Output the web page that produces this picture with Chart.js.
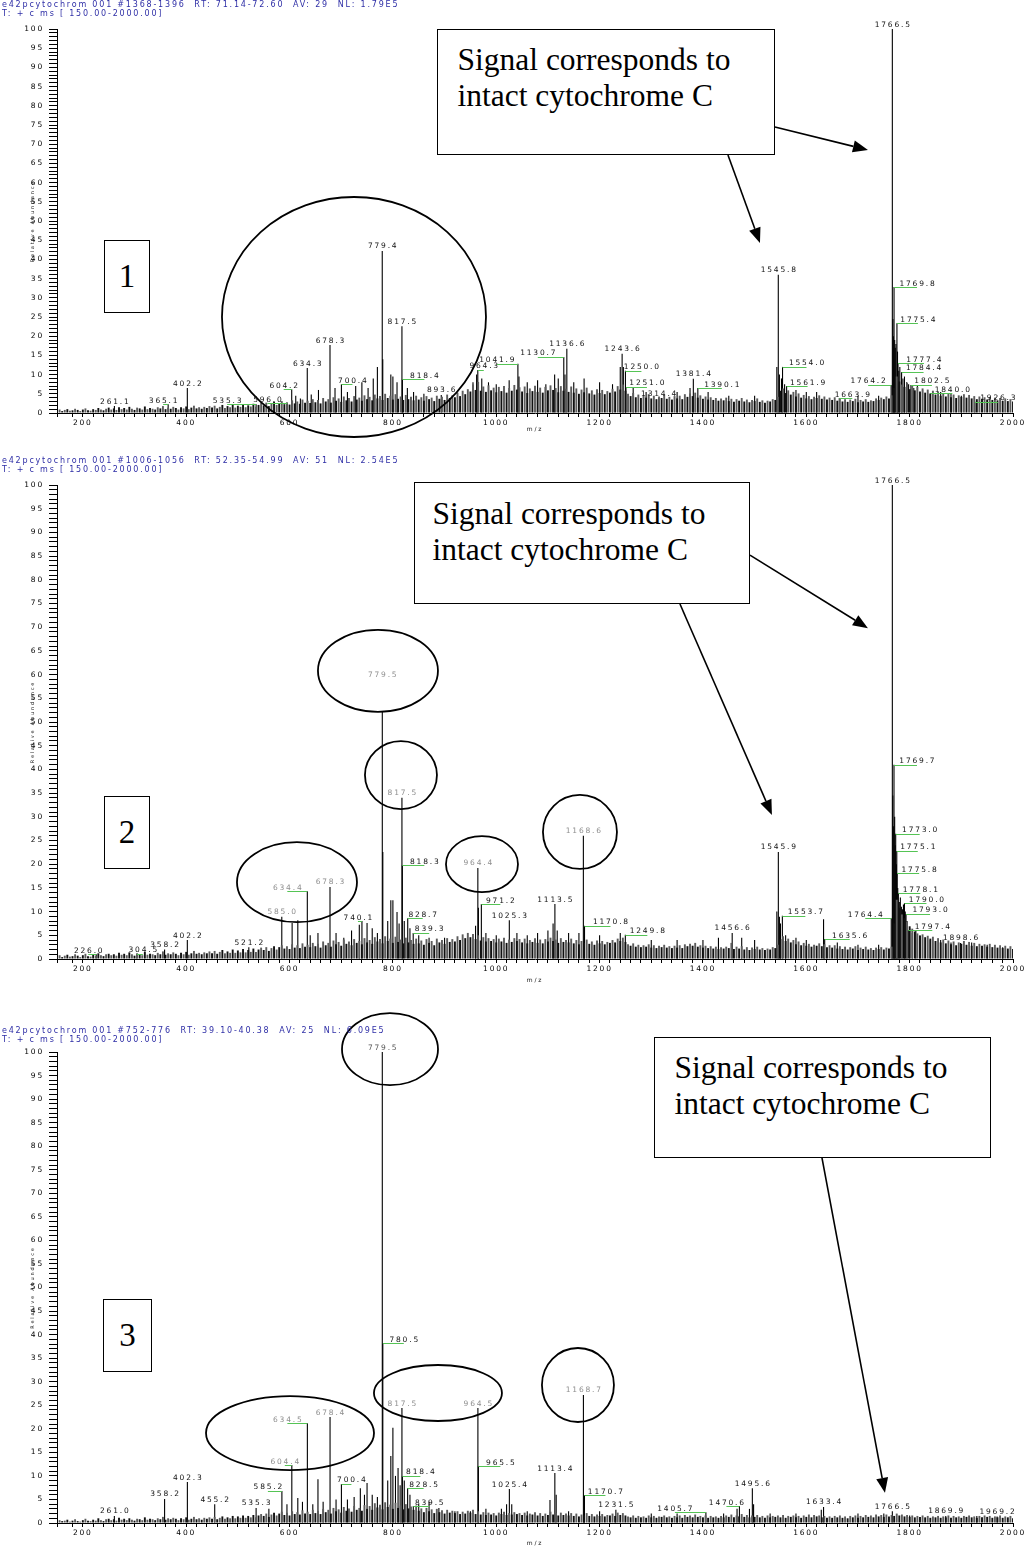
<!DOCTYPE html>
<html>
<head>
<meta charset="utf-8">
<script src="https://cdn.jsdelivr.net/npm/chart.js@4.4.1/dist/chart.umd.min.js"></script>
<style>
  html, body { margin: 0; padding: 0; background: #fff; }
  body { position: relative; width: 1030px; height: 1548px; overflow: hidden; }
  canvas { position: absolute; left: 0; }
  .hdr { position: absolute; left: 2px; font-family: "DejaVu Sans", sans-serif; font-size: 8px;
         line-height: 9px; letter-spacing: 1.8px; color: #2e2ea6; white-space: pre; z-index: 3; }
  .note { position: absolute; box-sizing: border-box; border: 1.5px solid #000; background: #fff;
          font-family: "Liberation Serif", serif; font-size: 31.5px; line-height: 36px; color: #000; z-index: 2; }
  .num { position: absolute; box-sizing: border-box; border: 1.5px solid #000; background: #fff;
         font-family: "Liberation Serif", serif; font-size: 33px; text-align: center; color: #000; z-index: 2; }
</style>
</head>
<body>

<div class="hdr" style="top:-0.5px">e42pcytochrom 001 #1368-1396  RT: 71.14-72.60  AV: 29  NL: 1.79E5
T: + c ms [ 150.00-2000.00]</div>
<div class="hdr" style="top:455.5px">e42pcytochrom 001 #1006-1056  RT: 52.35-54.99  AV: 51  NL: 2.54E5
T: + c ms [ 150.00-2000.00]</div>
<div class="hdr" style="top:1025.5px">e42pcytochrom 001 #752-776  RT: 39.10-40.38  AV: 25  NL: 6.09E5
T: + c ms [ 150.00-2000.00]</div>

<canvas id="p1" width="1030" height="450" style="top:0px"></canvas>
<canvas id="p2" width="1030" height="550" style="top:450px"></canvas>
<canvas id="p3" width="1030" height="548" style="top:1000px"></canvas>

<div class="note" style="left:437px;top:29px;width:338px;height:126px;padding:11.5px 0 0 19.5px">Signal corresponds to<br>intact cytochrome C</div>
<div class="note" style="left:414px;top:482px;width:336px;height:122px;padding:13px 0 0 17.5px">Signal corresponds to<br>intact cytochrome C</div>
<div class="note" style="left:654px;top:1037px;width:337px;height:121px;padding:11.5px 0 0 19.5px">Signal corresponds to<br>intact cytochrome C</div>

<div class="num" style="left:104px;top:240px;width:46px;height:73px;line-height:70px">1</div>
<div class="num" style="left:104px;top:796px;width:46px;height:73px;line-height:70px">2</div>
<div class="num" style="left:103px;top:1299px;width:49px;height:73px;line-height:70px">3</div>

<script>
// ---------- spectrum data ----------
// Baseline signal sampled every noiseStep m/z, starting at noiseStart.
const noiseStart = 150;
const noiseStep = 5;

const noise1 = [
  0.6,0.9,0.5,0.8,1.0,0.6,0.7,1.1,0.8,0.5,0.9,1.2,0.7,0.6,1.0,0.8,1.3,0.9,0.7,1.1,
  1.4,0.9,1.2,0.8,1.5,1.0,1.3,0.9,1.6,1.1,0.8,1.4,1.2,0.9,1.7,1.0,1.3,1.1,0.9,1.5,
  1.2,1.8,1.0,1.4,1.1,1.6,1.3,0.9,1.5,1.2,1.7,1.0,1.4,1.9,1.2,1.5,1.1,1.6,1.3,1.8,
  1.4,1.9,1.2,1.6,2.1,1.3,1.8,1.5,2.2,1.4,1.9,1.6,2.3,1.5,2.0,1.7,2.4,1.6,2.1,2.6,
  2.0,2.7,1.8,2.4,2.9,2.1,2.6,3.1,2.3,2.8,2.2,3.3,2.5,3.0,2.4,3.5,2.7,3.2,2.6,3.6,
  2.8,3.4,2.5,3.9,3.0,3.6,2.7,4.1,3.2,3.8,2.9,4.3,3.3,3.9,3.0,4.4,3.5,4.0,3.2,4.6,
  3.6,4.2,3.3,4.8,3.8,4.4,3.4,5.0,3.9,4.5,3.5,4.9,3.7,4.3,3.4,4.7,3.6,4.2,3.3,4.5,
  3.5,4.1,3.2,4.4,3.6,4.0,3.1,4.5,3.7,4.2,3.4,4.8,3.9,4.6,4.1,5.3,4.4,5.8,4.9,6.2,
  5.6,7.4,6.0,8.1,5.8,6.9,5.5,7.2,5.9,6.6,5.4,6.8,5.7,7.0,5.3,6.5,5.8,7.3,6.1,6.7,
  5.6,6.9,5.2,6.4,5.7,7.1,5.5,6.6,5.3,6.8,5.9,7.2,6.0,6.5,5.4,7.0,5.8,6.3,5.5,6.9,
  5.3,6.4,5.0,6.1,5.4,6.6,5.1,5.9,4.8,6.2,5.2,6.0,4.9,5.7,5.3,6.3,5.6,7.0,6.1,7.4,
  5.8,5.0,4.4,5.2,4.1,4.8,3.9,4.6,4.0,4.9,3.8,4.5,3.6,4.3,3.9,4.7,3.7,4.2,3.5,4.4,
  3.8,4.5,3.6,4.9,4.2,5.1,4.4,5.3,4.0,4.6,3.7,4.3,3.5,4.1,3.4,3.9,3.2,3.8,3.3,4.0,
  3.1,3.7,2.9,3.6,3.2,3.9,3.0,3.5,2.8,3.4,3.1,3.8,2.9,3.3,2.7,3.2,3.0,3.6,3.4,4.2,
  5.8,6.4,5.2,5.9,4.8,5.5,4.3,5.1,4.0,4.7,3.8,4.4,3.6,4.2,3.9,4.6,3.7,4.3,3.5,4.0,
  3.4,4.1,3.2,3.8,3.0,3.6,2.9,3.5,3.1,3.7,2.8,3.4,3.0,3.6,2.9,3.3,3.1,3.8,3.4,4.0,
  3.6,4.3,3.8,4.6,6.5,9.5,8.2,7.4,6.8,7.9,6.2,7.1,5.9,6.8,5.6,6.4,5.3,6.1,5.0,5.8,
  4.8,5.5,4.5,5.2,4.3,5.0,4.1,4.8,3.9,4.6,4.2,4.9,4.0,4.7,3.8,4.4,3.6,4.3,3.7,4.1,
  3.5,4.2,3.4,4.0,3.3,3.9,3.2,3.8,3.1,3.6,3.0
];

const noise2 = [
  0.5,0.8,0.4,0.7,0.9,0.5,0.6,1.0,0.7,0.4,0.8,1.1,0.6,0.5,0.9,0.7,1.2,0.8,0.6,1.0,
  1.1,0.8,1.0,0.7,1.3,0.9,1.1,0.8,1.4,1.0,0.7,1.2,1.0,0.8,1.5,0.9,1.1,1.0,0.8,1.3,
  1.0,1.6,0.9,1.2,1.0,1.4,1.1,0.8,1.3,1.0,1.5,0.9,1.2,1.7,1.1,1.3,1.0,1.4,1.2,1.6,
  1.2,1.7,1.1,1.5,1.9,1.2,1.6,1.3,2.0,1.3,1.8,1.4,2.1,1.4,1.9,1.5,2.2,1.5,2.0,2.4,
  1.9,2.5,1.7,2.3,2.7,2.0,2.5,2.9,2.2,2.7,2.1,3.1,2.4,2.9,2.3,3.3,2.6,3.0,2.5,3.4,
  2.7,3.2,2.4,3.7,2.9,3.4,2.6,3.9,3.1,3.6,2.8,4.1,3.2,3.7,2.9,4.2,3.4,3.8,3.1,4.4,
  3.5,4.0,3.2,4.6,3.7,4.2,3.3,4.8,3.8,4.3,3.4,4.7,3.6,4.1,3.3,4.5,3.5,4.0,3.2,4.3,
  3.3,3.9,3.0,4.2,3.4,3.8,2.9,4.3,3.5,4.0,3.2,4.4,3.6,4.2,3.7,4.8,4.0,5.2,4.4,5.5,
  4.6,5.3,4.2,5.0,3.9,4.6,3.7,4.4,3.8,4.2,3.5,4.3,3.7,4.5,3.4,4.1,3.6,4.4,3.8,4.2,
  3.5,4.3,3.3,4.0,3.6,4.4,3.4,4.1,3.3,4.2,3.7,4.5,3.8,4.1,3.4,4.4,3.6,4.0,3.5,4.3,
  3.3,4.0,3.1,3.8,3.4,4.1,3.2,3.7,3.0,3.9,3.3,3.8,3.1,3.6,3.4,4.0,3.5,4.3,3.8,4.5,
  3.6,3.1,2.8,3.3,2.6,3.0,2.5,2.9,2.6,3.1,2.4,2.9,2.3,2.8,2.5,3.0,2.4,2.7,2.3,2.8,
  2.4,2.9,2.3,3.1,2.7,3.2,2.8,3.4,2.6,2.9,2.4,2.8,2.3,2.7,2.2,2.6,2.1,2.5,2.2,2.6,
  2.3,3.4,2.1,2.6,2.2,2.7,2.0,2.5,1.9,2.4,2.1,2.6,2.0,2.3,1.9,2.2,2.0,2.5,2.3,3.0,
  4.2,4.8,3.8,4.3,3.5,4.0,3.1,3.7,2.9,3.4,2.8,3.2,2.6,3.0,2.8,3.3,2.7,3.1,2.5,2.9,
  2.4,2.9,2.2,2.7,2.1,2.6,2.0,2.5,2.2,2.7,1.9,2.4,2.1,2.6,2.0,2.3,1.9,2.4,2.1,2.5,
  2.0,2.4,2.2,2.6,7.5,12.5,10.8,9.4,8.6,7.8,6.9,6.4,5.8,5.4,4.9,5.2,4.6,4.9,4.3,4.7,
  3.8,4.4,3.5,4.1,3.3,3.9,3.1,3.7,2.9,3.5,3.2,3.8,3.0,3.6,2.8,3.4,2.7,3.2,2.8,3.1,
  2.6,3.2,2.5,3.0,2.4,2.9,2.3,2.8,2.2,2.7,2.1
];

const noise3 = [
  0.3,0.6,0.4,0.5,0.7,0.3,0.5,0.8,0.4,0.3,0.6,0.9,0.5,0.4,0.7,0.5,1.0,0.6,0.4,0.8,
  0.9,0.6,0.8,0.5,1.1,0.7,0.9,0.6,1.0,0.7,0.5,0.9,0.8,0.6,1.2,0.7,0.9,0.8,0.6,1.0,
  0.8,1.3,0.7,1.0,0.8,1.1,0.9,0.6,1.0,0.8,1.2,0.7,0.9,1.3,0.8,1.0,0.7,1.1,0.9,1.2,
  0.9,1.3,0.8,1.1,1.4,0.9,1.2,1.0,1.5,1.0,1.4,1.1,1.6,1.1,1.5,1.2,1.7,1.2,1.6,1.9,
  1.5,2.0,1.3,1.8,2.2,1.6,2.0,2.4,1.7,2.2,1.6,2.5,1.9,2.3,1.8,2.7,2.0,2.4,1.9,2.8,
  2.1,2.6,1.9,3.0,2.3,2.8,2.0,3.2,2.5,2.9,2.2,3.4,2.6,3.1,2.4,3.6,2.8,3.2,2.6,3.8,
  3.0,3.6,2.8,4.2,3.3,3.9,2.9,4.4,3.4,3.9,3.0,4.3,3.2,3.7,2.9,4.0,3.1,3.5,2.8,3.7,
  2.6,3.1,2.3,3.2,2.5,2.9,2.1,3.0,2.3,2.7,2.0,2.8,2.2,2.6,2.1,2.5,1.9,2.4,2.0,2.6,
  2.2,2.8,1.9,2.5,1.8,2.3,1.7,2.2,1.8,2.1,1.6,2.2,1.9,2.4,1.7,2.1,1.8,2.3,1.9,2.1,
  1.7,2.2,1.6,2.0,1.8,2.3,1.6,2.1,1.5,2.0,1.7,2.4,1.8,2.1,1.6,2.2,1.7,2.0,1.6,2.1,
  1.5,2.0,1.4,1.8,1.6,2.1,1.5,1.9,1.4,1.8,1.5,1.9,1.4,1.7,1.6,2.0,1.5,2.2,1.7,2.1,
  1.6,1.4,1.2,1.6,1.1,1.5,1.2,1.4,1.1,1.6,1.2,1.5,1.1,1.4,1.3,1.6,1.2,1.4,1.1,1.5,
  1.2,1.6,1.1,1.7,1.3,1.6,1.2,1.8,1.3,1.5,1.2,1.6,1.1,1.5,1.2,1.4,1.1,1.5,1.2,1.6,
  1.3,1.8,1.2,1.6,1.4,1.9,1.3,1.7,1.2,1.6,1.3,1.7,1.2,1.5,1.1,1.6,1.2,1.5,1.3,1.6,
  1.2,1.7,1.1,1.5,1.3,1.6,1.2,1.5,1.1,1.6,1.3,1.8,1.2,1.7,1.4,1.6,1.2,1.5,1.1,1.4,
  1.1,1.5,1.2,1.6,1.1,1.4,1.0,1.5,1.2,1.6,1.1,1.5,1.2,1.7,1.3,1.6,1.2,1.8,1.4,1.7,
  1.3,1.8,1.4,1.7,1.5,2.0,1.6,1.8,1.4,1.7,1.3,1.6,1.2,1.5,1.3,1.6,1.2,1.5,1.1,1.4,
  1.2,1.5,1.1,1.4,1.2,1.6,1.1,1.5,1.2,1.4,1.1,1.5,1.3,1.6,1.2,1.4,1.1,1.5,1.2,1.6,
  1.3,1.5,1.1,1.4,1.2,1.6,1.1,1.4,1.2,1.5,1.0
];

// Resolved peaks: [m/z, relative abundance %]
const peaks1 = [
  [261.1,1.8],[365.1,2.3],[402.2,6.5],[535.3,2.3],[596.0,2.6],[604.2,6.2],[612,4.5],[621,3.8],
  [634.3,11.7],[642,4.8],[656,6.0],[678.3,17.7],[688,6.5],[700.4,7.5],[712,5.5],[728,7.0],
  [740,8.0],[752,6.5],[762,9.0],[770,12.0],[779.4,42.2],[780.4,14],[796,10],[800,9.5],[808,8],
  [817.5,22.6],[818.4,8.8],[828,6.5],[840,5.5],[860,5.0],[893.6,4.7],[955,8],[962,10],
  [964.3,11.2],[972,9],[985,8],[1000,7.5],[1025,8.5],[1041.9,12.8],[1044,9.5],[1060,8],
  [1080,8.5],[1096,7.5],[1113,10],[1120,9],[1130.7,14.6],[1133,10],[1136.6,16.7],[1150,8],
  [1170,9],[1200,8],[1225,7.5],[1240,12],[1243.6,15.4],[1246,12],[1250.0,11],[1251.0,6.8],
  [1265,6.5],[1290,5.5],[1314.4,3.9],[1350,5.5],[1375,6.5],[1381.4,8.9],[1390.1,6.5],
  [1410,5.5],[1450,4.5],[1500,4.5],[1543,12],[1545.8,36],[1548,10],[1552,9],[1554.0,12],
  [1558,7.5],[1561.9,7.0],[1580,6],[1600,5.5],[1620,5.5],[1663.9,3.9],[1700,4.5],[1740,4.5],
  [1764.2,7.3],[1766.5,100],[1767.6,24.5],[1768.5,20],[1769.8,32.8],[1771.0,19],[1772.2,17],
  [1773.5,18],[1775.4,23.4],[1776.5,16],[1777.4,13],[1779,11],[1781,12],[1784.4,10.7],
  [1787,9],[1790,9.5],[1794,8],[1798,7.5],[1802.5,7.3],[1808,6.5],[1815,7],[1825,6],
  [1840.0,5.2],[1860,5.5],[1880,5],[1900,4.5],[1926.3,2.9]
];

const peaks2 = [
  [226.0,1.0],[304.5,1.1],[358.2,2.0],[402.2,4.0],[521.2,2.5],[585.0,8.9],[605,7.6],[616,8.2],
  [634.4,14.3],[640,5],[655,5.5],[678.3,15.2],[690,5.5],[705,4.5],[720,6],[735,7.2],[740.1,8.0],
  [750,7.6],[760,6.5],[770,5.5],[779.5,59],[780.5,22.6],[790,8],[796,12.4],[800,12.4],
  [808,9.9],[812,7.5],[817.5,34],[818.3,19.8],[822,8],[828.7,8.6],[833,6.5],[839.3,5.5],
  [850,5],[870,4.5],[900,4.5],[930,4],[960,7],[964.4,19.2],[965.5,10.8],[971.2,11.6],
  [980,5.5],[1000,5],[1025.3,8.2],[1040,5.5],[1060,5],[1080,5.5],[1100,6],[1110,7.5],
  [1113.5,11.6],[1118,6],[1140,5.5],[1160,5.5],[1168.6,26],[1170.8,7.0],[1200,5],[1240,5.5],
  [1249.8,5.1],[1300,4],[1350,4],[1400,4],[1430,4.5],[1456.6,5.5],[1475,4.5],[1500,4],
  [1543,10],[1545.9,22.6],[1548,8.9],[1550,7.5],[1553.7,9.1],[1560,5],[1580,4.5],[1600,4],
  [1633.4,8.4],[1635.6,4.2],[1660,3.5],[1700,3],[1740,3],[1764.4,8.6],[1766.5,100],
  [1767.4,34.5],[1768.4,28],[1769.7,41],[1771.0,30],[1772.0,24],[1773.0,26.4],[1774.2,20],
  [1775.1,22.8],[1775.8,18.1],[1777.0,15],[1778.1,13.9],[1780,12],[1782,13],[1784,11],
  [1786,10.5],[1788,11.5],[1790.0,11.8],[1791.5,10],[1793.0,9.5],[1795,8],[1797.4,6.1],
  [1800,6.5],[1805,5.5],[1812,6],[1820,5],[1840,4],[1860,4],[1880,3.5],[1898.6,3.4],
  [1920,3.5],[1950,3],[1980,2.5]
];

const peaks3 = [
  [261.0,1.5],[358.2,5.1],[402.3,8.7],[455.2,4.0],[535.3,3.2],[560,3],[585.2,6.8],[595,4],
  [604.4,12.3],[616,5.3],[625,4.5],[634.5,21.2],[645,4],[655,9.3],[665,4.5],[678.4,22.5],
  [690,5],[700.4,8.3],[712,5],[725,5.5],[737,7.4],[745,6],[750,8.5],[760,6],[770,5.5],
  [779.5,100],[780.5,38.2],[790,9],[796,14.2],[800,20.2],[805,10],[810,11.7],[814,8],
  [817.5,24.4],[818.4,10.0],[822,9],[828.5,7.4],[833,6],[839.5,3.6],[850,4],[870,4.5],
  [889,3.2],[920,2.5],[950,2.5],[964.5,24.4],[965.5,12.1],[980,3],[1010,3],[1020,4],
  [1025.4,7.2],[1030,4],[1060,2.5],[1104,4.9],[1113.4,10.6],[1116,6],[1140,2.5],
  [1168.7,27.2],[1170.7,5.9],[1200,2.5],[1231.5,2.8],[1300,2],[1350,2],[1405.7,2.3],
  [1440,2],[1466,3],[1470.6,3.6],[1490,3],[1495.6,7.4],[1498,4],[1530,2],[1580,2],
  [1629,2.8],[1633.4,3.4],[1700,2],[1750,2],[1766.5,2.5],[1800,1.6],[1869.9,1.5],
  [1930,1.5],[1969.2,1.4]
];

// Annotated peaks (m/z values printed above their sticks)
const labelMz1 = [261.1,365.1,402.2,535.3,596.0,604.2,634.3,678.3,700.4,779.4,817.5,818.4,
  893.6,964.3,1041.9,1130.7,1136.6,1243.6,1250.0,1251.0,1314.4,1381.4,1390.1,1545.8,1554.0,
  1561.9,1663.9,1764.2,1766.5,1769.8,1775.4,1777.4,1784.4,1802.5,1840.0,1926.3];
const labelMz2 = [226.0,304.5,358.2,402.2,521.2,585.0,634.4,678.3,740.1,779.5,817.5,818.3,
  828.7,839.3,964.4,971.2,1025.3,1113.5,1168.6,1170.8,1249.8,1456.6,1545.9,1553.7,1635.6,
  1764.4,1766.5,1769.7,1773.0,1775.1,1775.8,1778.1,1790.0,1793.0,1797.4,1898.6];
const labelMz3 = [261.0,358.2,402.3,455.2,535.3,585.2,604.4,634.5,678.4,700.4,779.5,780.5,
  817.5,818.4,828.5,839.5,964.5,965.5,1025.4,1113.4,1168.7,1170.7,1231.5,1405.7,1470.6,
  1495.6,1633.4,1766.5,1869.9,1969.2];

// ---------- label layout (px shift of each label from its stick; non-zero gets a leader) ----------
const labelShift1 = [0,-5,0,-29,-20,-8,0,0,11,0,0,22,0,6,-21,-26,0,0,16,21,0,0,24,0,24,21,13,
  -23,0,23,21,26,22,21,22,23];
const labelShift2 = [-8,6,0,0,0,0,-20,0,-4,0,0,22,15,16,0,19,0,0,0,26,22,0,0,23,25,-26,0,23,24,
  21,22,22,22,24,24,0];
const labelShift3 = [0,0,0,0,0,-14,-7,-20,0,10,0,21,0,18,16,16,0,22,0,0,0,21,0,-31,-13,0,0,0,0,0];

// labels retyped in grey inside the hand-drawn circles
const grey1 = [];
const grey2 = [585.0,634.4,678.3,779.5,817.5,964.4,1168.6];
const grey3 = [604.4,634.5,678.4,817.5,964.5,1168.7];
const dim3 = [779.5];

// circles (centre in m/z / abundance, radii in px) and arrows (m/z / abundance end points)
const circles1 = [{ mz: 724.7, ab: 25, rx: 132, ry: 120 }];
const arrows1 = [{ from: [1539.3, 74.5], to: [1719.3, 68.5] }, { from: [1448.4, 67.2], to: [1510.3, 44.3] }];
const circles2 = [
  { mz: 771.1, ab: 60.8, rx: 60, ry: 41, fill: true },
  { mz: 815.6, ab: 38.8, rx: 36, ry: 34 },
  { mz: 614.4, ab: 16.2, rx: 60, ry: 40 },
  { mz: 972.4, ab: 20.0, rx: 36, ry: 28 },
  { mz: 1162.0, ab: 26.8, rx: 37, ry: 37 }
];
const arrows2 = [{ from: [1491, 85.2], to: [1719.3, 69.8] }, { from: [1355.5, 74.9], to: [1533.5, 30.4] }];
const circles3 = [
  { mz: 794.4, ab: 100.6, rx: 48, ry: 36 },
  { mz: 600.9, ab: 19.1, rx: 84, ry: 37 },
  { mz: 887.2, ab: 27.6, rx: 64, ry: 28 },
  { mz: 1158.1, ab: 29.3, rx: 36, ry: 37 }
];
const arrows3 = [{ from: [1630.3, 77.5], to: [1752.2, 6.4] }];

// ---------- drawing ----------
const INK = '#000';
const TICK_FONT = { family: 'DejaVu Sans', size: 7.5 };

function abundanceAt(peaks, mz) {
  const p = peaks.find(q => Math.abs(q[0] - mz) < 0.01);
  return p ? p[1] : 0;
}

function drawArrow(ctx, x0, y0, x1, y1) {
  const a = Math.atan2(y1 - y0, x1 - x0), L = 15, W = 6;
  const bx = x1 - L * Math.cos(a), by = y1 - L * Math.sin(a);
  ctx.beginPath(); ctx.moveTo(x0, y0); ctx.lineTo(bx, by);
  ctx.lineWidth = 1.6; ctx.strokeStyle = INK; ctx.stroke();
  ctx.beginPath(); ctx.moveTo(x1, y1);
  ctx.lineTo(bx - W * Math.sin(a), by + W * Math.cos(a));
  ctx.lineTo(bx + W * Math.sin(a), by - W * Math.cos(a));
  ctx.closePath(); ctx.fillStyle = INK; ctx.fill();
}

function makeOverlay(cfg) {
  return {
    id: 'spectrumOverlay',
    beforeDraw(chart) { chart.ctx.letterSpacing = '1.8px'; },
    afterDatasetsDraw(chart) {
      const { ctx, scales: { x, y } } = chart;
      ctx.save();
      // hand-drawn circles
      cfg.circles.forEach(c => {
        ctx.beginPath();
        ctx.ellipse(x.getPixelForValue(c.mz), y.getPixelForValue(c.ab), c.rx, c.ry, 0, 0, Math.PI * 2);
        if (c.fill) { ctx.fillStyle = '#fff'; ctx.fill(); }
        ctx.lineWidth = 1.8; ctx.strokeStyle = INK; ctx.stroke();
      });
      // peak labels with green leader lines
      ctx.font = '7.5px "DejaVu Sans"';
      ctx.letterSpacing = '1.8px';
      ctx.textAlign = 'center';
      ctx.textBaseline = 'alphabetic';
      cfg.labels.forEach((mz, i) => {
        const px = x.getPixelForValue(mz);
        const py = y.getPixelForValue(abundanceAt(cfg.peaks, mz));
        const s = cfg.shifts[i] || 0;
        if (s) {
          const ly = Math.round(py) + 0.5;
          ctx.beginPath(); ctx.moveTo(px, ly); ctx.lineTo(px + s, ly);
          ctx.lineWidth = 1; ctx.strokeStyle = '#55c455'; ctx.stroke();
        }
        ctx.fillStyle = cfg.grey.includes(mz) ? '#8e8e8e' : (cfg.dim.includes(mz) ? '#555' : '#111');
        ctx.fillText(mz.toFixed(1), px + s + 0.9, py - (s ? 1.5 : 2.5));
      });
      // arrows towards the intact-protein signal
      cfg.arrows.forEach(a => {
        drawArrow(ctx, x.getPixelForValue(a.from[0]), y.getPixelForValue(a.from[1]),
                       x.getPixelForValue(a.to[0]), y.getPixelForValue(a.to[1]));
      });
      ctx.restore();
    }
  };
}

function buildSpectrum(cfg) {
  const noiseData = cfg.noise.map((v, i) => ({ x: noiseStart + i * noiseStep, y: v }));
  const peakData = cfg.peaks.map(p => ({ x: p[0], y: p[1] }));
  return new Chart(document.getElementById(cfg.id), {
    type: 'bar',
    data: {
      datasets: [
        { data: noiseData, barThickness: 1.9, grouped: false, inflateAmount: 0, borderWidth: 0,
          backgroundColor: c => (c.dataIndex % 2 ? '#5c5c5c' : '#101010') },
        { data: peakData, barThickness: 1.1, grouped: false, inflateAmount: 0, borderWidth: 0,
          backgroundColor: '#000' }
      ]
    },
    options: {
      responsive: false,
      animation: false,
      devicePixelRatio: 1,
      events: [],
      layout: { padding: { left: 0, right: 17, top: cfg.top, bottom: 0 } },
      plugins: { legend: { display: false }, tooltip: { enabled: false } },
      scales: {
        x: {
          type: 'linear', min: 150, max: 2000, offset: false,
          afterFit: s => { s.height = cfg.axisH; },
          grid: { display: true, offset: false, drawOnChartArea: false, drawTicks: true,
                  tickLength: 4, tickColor: INK, tickWidth: 1 },
          border: { display: true, color: INK, width: 1 },
          ticks: { stepSize: 20, autoSkip: false, maxRotation: 0, padding: 2, color: '#000',
                   font: TICK_FONT, callback: v => (v % 200 === 0 ? String(v) : '') },
          title: { display: true, text: 'm/z', color: '#111', font: { family: 'DejaVu Sans', size: 6 },
                   padding: { top: 0, bottom: cfg.titlePad } }
        },
        y: {
          min: 0, max: 100,
          afterFit: s => { s.width = 57; },
          grid: { display: true, drawOnChartArea: false, drawTicks: true,
                  tickLength: 8, tickColor: INK, tickWidth: 1 },
          border: { display: true, color: INK, width: 1 },
          ticks: { stepSize: 1, autoSkip: false, padding: 5, color: '#000',
                   font: TICK_FONT, callback: v => (v % 5 === 0 ? String(v) : '') },
          title: { display: true, text: 'Relative Abundance', color: '#111',
                   font: { family: 'DejaVu Sans', size: 5 }, padding: { top: 30, bottom: 0 } }
        }
      }
    },
    plugins: [makeOverlay(cfg)]
  });
}

buildSpectrum({ id: 'p1', top: 29, axisH: 37, titlePad: 17, noise: noise1, peaks: peaks1,
  labels: labelMz1, shifts: labelShift1, grey: grey1, dim: [], circles: circles1, arrows: arrows1 });
buildSpectrum({ id: 'p2', top: 35, axisH: 41, titlePad: 16, noise: noise2, peaks: peaks2,
  labels: labelMz2, shifts: labelShift2, grey: grey2, dim: [], circles: circles2, arrows: arrows2 });
buildSpectrum({ id: 'p3', top: 52, axisH: 25, titlePad: 1, noise: noise3, peaks: peaks3,
  labels: labelMz3, shifts: labelShift3, grey: grey3, dim: dim3, circles: circles3, arrows: arrows3 });
</script>
</body>
</html>
